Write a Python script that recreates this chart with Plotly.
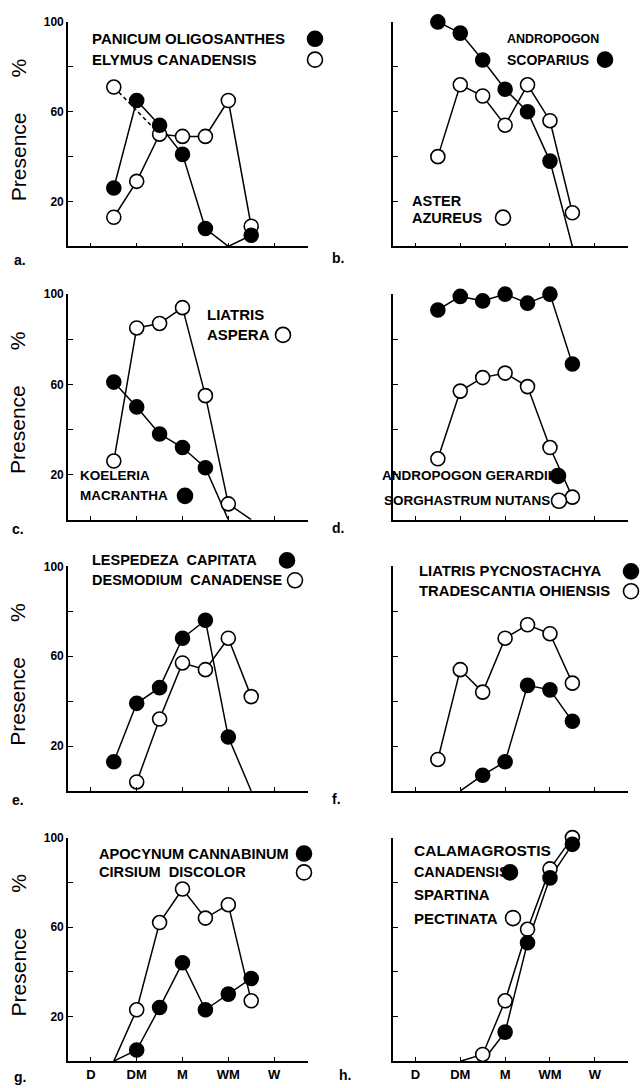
import plotly.graph_objects as go

W, H = 641, 1088

# ---------------- data ----------------
X_POS = [1.5, 2, 2.5, 3, 3.5, 4, 4.5]
X_TICKS = [1, 2, 3, 4, 5]
X_TICK_LABELS = ["D", "DM", "M", "WM", "W"]
Y_TICKS = [20, 40, 60, 80, 100]
Y_TICK_LABELS = ["20", "", "60", "", "100"]

# a.
a_panicum = [26, 65, 54, 41, 8, 0, 5]
a_elymus = [13, 29, 50, 49, 49, 65, 9]
a_elymus_extra_x = [1.5, 2.5]
a_elymus_extra_y = [71, 50]
# b.
b_andropogon_scoparius = [100, 95, 83, 70, 60, 38, 0]
b_aster = [40, 72, 67, 54, 72, 56, 15]
# c.
c_koeleria = [61, 50, 38, 32, 23, 0, None]
c_liatris_aspera = [26, 85, 87, 94, 55, 7, 0]
# d.
d_andropogon_gerardii = [93, 99, 97, 100, 96, 100, 69]
d_sorghastrum = [27, 57, 63, 65, 59, 32, 10]
# e.
e_lespedeza = [13, 39, 46, 68, 76, 24, 0]
e_desmodium = [None, 4, 32, 57, 54, 68, 42]
# f.
f_liatris_pycnostachya = [None, 0, 7, 13, 47, 45, 31]
f_tradescantia = [14, 54, 44, 68, 74, 70, 48]
# g.
g_apocynum = [0, 5, 24, 44, 23, 30, 37]
g_cirsium = [0, 23, 62, 77, 64, 70, 27]
# h.
h_calamagrostis = [None, None, 0, 13, 53, 82, 97]
h_spartina = [None, 0, 3, 27, 59, 86, 100]

# ---------------- layout helpers ----------------
COLS = [(68, 308), (393, 628)]
ROWS = [(15, 241), (289, 516), (563, 789), (836, 1061)]

FONT = "Liberation Sans, Arial, sans-serif"


def px(x):
    return x / W


def py(y):
    return 1 - y / H


panels = [
    dict(letter="a.", filled=a_panicum, open=a_elymus,
         texts=[("PANICUM OLIGOSANTHES", 90, 32, 15), ("ELYMUS CANADENSIS", 90, 53, 15)],
         keys=[(315, 32, True), (315, 53, False)], lab=(12, 255)),
    dict(letter="b.", filled=b_andropogon_scoparius, open=b_aster,
         texts=[("ANDROPOGON", 505, 32, 12.5), ("SCOPARIUS", 505, 53, 14),
                ("ASTER", 410, 195, 14.5), ("AZUREUS", 410, 212, 14.5)],
         keys=[(605, 53, True), (503, 212, False)], lab=(330, 253)),
    dict(letter="c.", filled=c_koeleria, open=c_liatris_aspera,
         texts=[("LIATRIS", 205, 309, 15), ("ASPERA", 205, 330, 15),
                ("KOELERIA", 78, 472, 13.5), ("MACRANTHA", 78, 492, 13.5)],
         keys=[(283, 330, False), (185, 492, True)], lab=(10, 525)),
    dict(letter="d.", filled=d_andropogon_gerardii, open=d_sorghastrum,
         texts=[("ANDROPOGON GERARDII", 380, 472, 13.5), ("SORGHASTRUM NUTANS", 382, 497, 13.5)],
         keys=[(558, 472, True), (559, 497, False)], lab=(330, 524)),
    dict(letter="e.", filled=e_lespedeza, open=e_desmodium,
         texts=[("LESPEDEZA  CAPITATA", 90, 557, 14.5), ("DESMODIUM  CANADENSE", 90, 577, 14.5)],
         keys=[(287, 557, True), (295, 577, False)], lab=(10, 798)),
    dict(letter="f.", filled=f_liatris_pycnostachya, open=f_tradescantia,
         texts=[("LIATRIS PYCNOSTACHYA", 417, 568, 14.8), ("TRADESCANTIA OHIENSIS", 417, 588, 14.8)],
         keys=[(631, 568, True), (631, 588, False)], lab=(330, 797)),
    dict(letter="g.", filled=g_apocynum, open=g_cirsium,
         texts=[("APOCYNUM CANNABINUM", 97, 852, 14.6), ("CIRSIUM  DISCOLOR", 97, 871, 14.6)],
         keys=[(304, 852, True), (304, 871, False)], lab=(12, 1077)),
    dict(letter="h.", filled=h_calamagrostis, open=h_spartina,
         texts=[("CALAMAGROSTIS", 412, 849, 15.5), ("CANADENSIS", 412, 871, 14.3),
                ("SPARTINA", 412, 893, 15), ("PECTINATA", 412, 917, 15)],
         keys=[(510, 871, True), (513, 917, False)], lab=(337, 1075)),
]

fig = go.Figure()
annotations = []
shapes = []

MSIZE = 14


def axis_names(idx):
    xa = "x" if idx == 1 else f"x{idx}"
    ya = "y" if idx == 1 else f"y{idx}"
    return xa, ya


def add_series(idx, xs, ys, dash=None):
    xa, ya = axis_names(idx)
    pts = [(x, y) for x, y in zip(xs, ys) if y is not None]
    fig.add_trace(go.Scatter(
        x=[p[0] for p in pts], y=[p[1] for p in pts], mode="lines",
        line=dict(color="black", width=1.5, dash=dash if dash else "solid"),
        xaxis=xa, yaxis=ya, showlegend=False, hoverinfo="skip", cliponaxis=False))


def add_markers(idx, xs, ys, filled):
    xa, ya = axis_names(idx)
    pts = [(x, y) for x, y in zip(xs, ys) if y is not None and y != 0]
    fig.add_trace(go.Scatter(
        x=[p[0] for p in pts], y=[p[1] for p in pts], mode="markers",
        marker=dict(size=MSIZE, color="black" if filled else "white",
                    line=dict(color="black", width=1.6)),
        xaxis=xa, yaxis=ya, showlegend=False, cliponaxis=False))


for i, p in enumerate(panels):
    idx = i + 1
    row, col = divmod(i, 2)
    x0, x1 = COLS[col]
    y0, y1 = ROWS[row]
    # lines first
    add_series(idx, X_POS, p["open"])
    add_series(idx, X_POS, p["filled"])
    if idx == 1:
        add_series(idx, a_elymus_extra_x, a_elymus_extra_y, dash="4px,3px")
    # markers: open, then filled on top
    add_markers(idx, X_POS, p["open"], False)
    if idx == 1:
        add_markers(idx, a_elymus_extra_x[:1], a_elymus_extra_y[:1], False)
    add_markers(idx, X_POS, p["filled"], True)

    xname = "xaxis" if idx == 1 else f"xaxis{idx}"
    yname = "yaxis" if idx == 1 else f"yaxis{idx}"
    xa, ya = axis_names(idx)
    fig.layout[xname] = dict(
        domain=[px(x0), px(x1)], range=[0.5, 5.74], anchor=ya,
        showline=True, linecolor="black", linewidth=1.6, mirror=False,
        ticks="inside", ticklen=4, tickwidth=1.3, tickcolor="black",
        tickvals=X_TICKS,
        ticktext=X_TICK_LABELS if row == 3 else [""] * 5,
        tickfont=dict(family=FONT, size=13, color="black", weight="bold"),
        showgrid=False, zeroline=False, fixedrange=True)
    fig.layout[yname] = dict(
        domain=[py(y1), py(y0)], range=[0, 100], anchor=xa,
        showline=True, linecolor="black", linewidth=1.6,
        ticks="inside", ticklen=5, tickwidth=1.3, tickcolor="black",
        tickvals=Y_TICKS,
        ticktext=Y_TICK_LABELS if col == 0 else [""] * 5,
        tickfont=dict(family=FONT, size=12, color="black", weight="bold"),
        showgrid=False, zeroline=False, fixedrange=True)

    for t, tx, ty, fs in p["texts"]:
        annotations.append(dict(
            text=t, x=px(tx), y=py(ty), xref="paper", yref="paper",
            xanchor="left", yanchor="middle", showarrow=False,
            font=dict(family=FONT, size=fs, color="black", weight="bold")))
    for kx, ky, filled in p["keys"]:
        shapes.append(dict(
            type="circle", xref="paper", yref="paper",
            xsizemode="pixel", ysizemode="pixel",
            xanchor=px(kx), yanchor=py(ky), x0=-7.5, x1=7.5, y0=-7.5, y1=7.5,
            line=dict(color="black", width=1.6),
            fillcolor="black" if filled else "white"))
    lx, ly = p["lab"]
    annotations.append(dict(
        text=p["letter"], x=px(lx), y=py(ly), xref="paper", yref="paper",
        xanchor="left", yanchor="middle", showarrow=False,
        font=dict(family=FONT, size=14, color="black", weight="bold")))
    if col == 0:
        annotations.append(dict(
            text="Presence" + "\u00a0" * 6 + "%", x=px(18), y=py((y0 + y1) / 2 - 4),
            xref="paper", yref="paper", xanchor="center", yanchor="middle",
            textangle=-90, showarrow=False,
            font=dict(family=FONT, size=21, color="black")))

fig.update_layout(
    width=W, height=H, margin=dict(l=0, r=0, t=0, b=0),
    paper_bgcolor="white", plot_bgcolor="white",
    annotations=annotations, shapes=shapes, showlegend=False)

fig.write_html("out.html", config={"displayModeBar": False})
